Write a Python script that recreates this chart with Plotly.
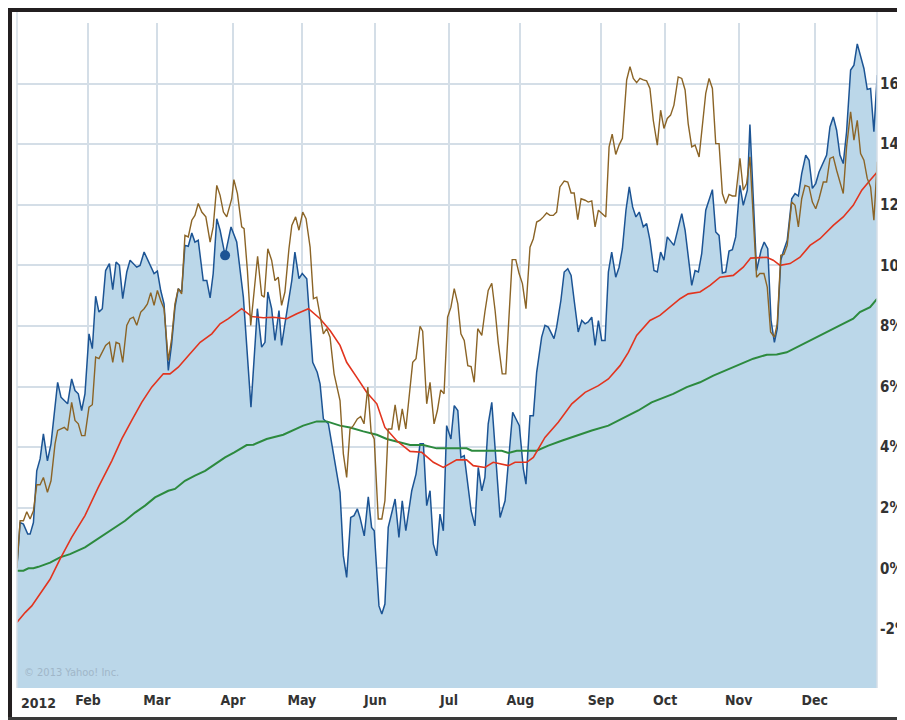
import pandas as pd
import plotly.graph_objects as go

# ---------------- data (day offsets from 2012-01-01, values in %) ----------------
blue_day = [1.0, 2.4, 3.8, 5.6, 6.6, 8.0, 9.4, 10.8, 12.2, 13.9, 15.4, 18.2, 19.6, 22.4, 24.1, 25.5, 26.9, 28.3, 29.7,
            31.4, 32.8, 34.2, 35.6, 37.0, 38.4, 40.0, 41.4, 42.8, 44.2, 45.6, 47.3, 48.7, 51.5, 52.9, 54.6, 58.8, 60.2,
            61.6, 63.0, 64.8, 66.2, 67.6, 69.0, 70.4, 71.8, 73.2, 74.7, 76.0, 77.4, 79.5, 81.0, 82.4, 83.7, 85.2, 86.6,
            88.7, 91.2, 93.6, 96.4, 99.6, 102.3, 104.1, 105.5, 106.7, 108.3, 109.7, 111.4, 112.5, 113.9, 116.8, 118.1,
            119.8, 121.2, 123.1, 125.6, 127.5, 128.7, 130.1, 132.2, 134.3, 137.1, 138.5, 139.9, 141.6, 143.0, 144.4,
            145.5, 147.3, 149.0, 150.4, 151.5, 153.5, 154.7, 156.0, 157.4, 160.3, 161.9, 163.3, 164.8, 167.3, 169.1,
            170.8, 172.2, 173.6, 175.0, 176.4, 177.8, 179.2, 180.6, 182.0, 183.8, 185.2, 186.7, 188.0, 189.4, 192.3,
            193.9, 195.3, 196.8, 198.1, 199.5, 201.0, 202.4, 204.5, 206.6, 208.3, 209.8, 211.2, 212.6, 214.3, 215.4,
            217.1, 218.5, 219.9, 222.0, 223.4, 224.8, 227.2, 228.3, 230.1, 231.5, 233.0, 234.4, 235.7, 237.4, 238.9,
            240.3, 241.6, 243.1, 244.5, 245.9, 247.3, 248.7, 250.1, 251.5, 253.2, 254.6, 256.0, 257.5, 258.9, 260.3,
            261.7, 263.1, 264.8, 266.2, 267.6, 269.3, 270.7, 272.1, 273.5, 274.9, 277.7, 281.0, 282.4, 285.2, 286.6,
            288.0, 289.4, 291.1, 293.9, 295.3, 296.7, 298.1, 299.5, 300.9, 302.3, 303.7, 305.5, 306.9, 308.6, 309.7,
            312.5, 314.4, 315.7, 317.2, 318.6, 320.0, 321.2, 322.7, 323.7, 325.4, 327.3, 328.7, 330.1, 331.5, 333.2,
            334.6, 336.0, 337.4, 338.8, 340.6, 342.0, 343.4, 344.8, 346.2, 347.6, 349.0, 350.4, 352.1, 353.5, 354.9,
            356.3, 357.7, 359.1, 360.5, 361.9, 363.3]
blue_val = [0.0, 1.51, 1.46, 1.13, 1.13, 1.51, 3.22, 3.61, 4.44, 3.55, 4.11, 6.14, 5.65, 5.43, 6.25, 5.87, 5.76, 5.21,
            5.76, 7.74, 7.25, 8.98, 8.46, 8.57, 9.83, 10.06, 9.2, 10.11, 10.0, 8.9, 9.78, 10.17, 9.94, 10.0, 10.44, 9.73,
            9.81, 9.17, 8.73, 6.53, 7.41, 8.62, 9.23, 9.12, 10.66, 10.63, 11.07, 10.77, 10.83, 9.5, 9.5, 8.93, 9.73,
            11.54, 11.16, 10.33, 11.27, 10.77, 8.95, 5.32, 8.57, 7.3, 7.46, 9.12, 8.57, 7.52, 8.51, 7.36, 8.07, 9.5,
            10.44, 9.56, 9.73, 9.56, 6.8, 6.47, 6.09, 4.93, 4.77, 3.78, 2.51, 0.41, -0.3, 1.68, 1.74, 1.96, 1.68, 1.07,
            2.36, 1.35, 1.24, -1.24, -1.51, -1.18, 1.35, 2.29, 1.02, 2.23, 1.24, 2.56, 3.11, 4.11, 4.11, 2.07, 2.56,
            0.8, 0.41, 1.79, 1.24, 4.71, 4.27, 5.37, 5.21, 3.66, 3.72, 1.9, 1.4, 3.33, 2.56, 3.0, 4.77, 5.48, 3.88,
            1.68, 2.23, 3.78, 5.15, 4.93, 4.71, 3.28, 2.78, 5.04, 5.04, 6.47, 7.63, 8.02, 7.96, 7.58, 7.96, 8.84, 9.78,
            9.89, 9.67, 8.84, 7.8, 8.18, 8.07, 8.13, 8.29, 7.36, 8.18, 7.52, 7.52, 9.78, 10.44, 9.61, 9.94, 10.55,
            11.82, 12.59, 11.93, 11.6, 11.76, 11.27, 11.38, 10.83, 9.83, 9.78, 10.44, 10.17, 10.94, 10.66, 11.71,
            11.16, 9.34, 9.83, 9.78, 10.39, 11.82, 12.5, 11.1, 10.99, 9.75, 9.78, 10.47, 10.52, 10.94, 12.64, 11.98,
            12.48, 14.65, 9.83, 10.5, 10.77, 10.55, 8.18, 7.46, 7.91, 10.17, 10.44, 10.83, 12.2, 12.37, 12.29, 13.03,
            13.64, 13.47, 12.54, 12.7, 13.08, 13.42, 13.64, 14.57, 14.9, 14.46, 13.64, 13.36, 14.41, 16.45, 16.61,
            17.31, 16.94, 16.5, 15.81, 15.84, 14.41, 16.28]

brown_day = [1.0, 2.4, 3.8, 5.2, 6.6, 8.0, 9.4, 10.8, 12.2, 13.9, 15.4, 17.1, 18.2, 21.0, 22.4, 24.1, 25.5, 26.9, 28.3,
             29.7, 31.4, 32.8, 34.2, 35.6, 38.4, 40.0, 41.4, 42.8, 44.2, 45.6, 47.3, 48.7, 50.1, 51.5, 53.2, 54.6, 56.0,
             57.4, 58.8, 60.2, 61.6, 63.0, 64.8, 66.2, 67.6, 69.0, 70.4, 71.8, 73.2, 74.7, 76.0, 77.4, 78.9, 80.6, 82.4,
             83.7, 85.2, 86.6, 88.0, 89.4, 91.5, 92.4, 93.9, 95.7, 96.7, 98.1, 99.5, 100.9, 102.4, 104.1, 105.2, 106.7,
             108.3, 109.7, 111.1, 112.5, 113.9, 115.6, 116.8, 118.4, 119.8, 121.4, 122.8, 124.5, 125.9, 127.3, 130.1,
             131.5, 132.9, 134.6, 137.1, 138.5, 139.9, 141.3, 142.7, 144.4, 145.8, 147.2, 148.8, 150.2, 151.5, 153.2,
             154.7, 156.0, 157.4, 158.9, 160.3, 161.9, 163.3, 164.8, 167.7, 169.1, 170.8, 171.9, 173.6, 175.0, 176.7,
             178.1, 179.5, 180.9, 182.4, 183.8, 185.2, 186.7, 188.0, 189.4, 190.9, 192.3, 193.6, 195.1, 196.8, 198.1,
             199.5, 201.0, 202.4, 203.7, 205.4, 206.9, 208.3, 209.6, 211.1, 212.5, 213.9, 215.4, 217.1, 218.5, 219.9,
             221.3, 222.7, 224.1, 225.5, 226.9, 228.3, 229.7, 231.5, 233.0, 234.4, 235.7, 237.2, 238.6, 240.3, 241.6,
             243.1, 244.5, 245.9, 247.3, 249.0, 250.4, 251.7, 253.2, 254.6, 256.0, 257.8, 259.2, 260.6, 262.0, 263.4,
             264.8, 266.2, 267.6, 269.0, 270.7, 272.1, 273.5, 274.9, 276.3, 277.7, 279.5, 281.0, 282.4, 283.7, 285.2,
             286.6, 288.3, 289.6, 291.1, 292.5, 293.9, 295.3, 296.7, 298.1, 299.5, 300.9, 302.3, 303.7, 305.5, 306.9,
             308.3, 309.7, 312.5, 313.9, 315.6, 317.0, 318.4, 320.0, 321.2, 322.7, 324.0, 325.4, 327.3, 328.7, 330.1,
             331.5, 332.9, 334.6, 336.0, 337.4, 338.8, 340.6, 342.0, 343.4, 344.8, 346.2, 347.6, 349.0, 350.4, 352.1,
             353.5, 354.9, 356.3, 357.7, 359.1, 360.5, 361.9, 363.3]
brown_val = [0.0, 1.57, 1.57, 1.87, 1.63, 1.9, 2.76, 2.76, 3.0, 2.51, 2.89, 4.11, 4.55, 4.65, 4.55, 5.48, 4.88, 4.77,
             4.38, 4.38, 5.32, 5.4, 6.97, 6.92, 7.36, 7.46, 6.8, 7.46, 7.41, 6.8, 8.02, 8.24, 8.29, 8.02, 8.46, 8.57,
             8.73, 9.1, 8.68, 9.17, 8.84, 8.57, 6.86, 7.58, 8.73, 9.23, 9.06, 10.99, 10.94, 11.49, 11.65, 12.04, 11.76,
             11.6, 10.77, 11.27, 12.64, 12.31, 11.76, 11.6, 12.2, 12.83, 12.37, 11.27, 11.21, 9.83, 8.02, 9.17, 10.3,
             9.01, 8.95, 10.55, 10.17, 9.5, 9.61, 8.68, 9.12, 10.55, 11.32, 11.6, 11.16, 11.76, 11.54, 10.6, 8.9, 8.95,
             7.74, 7.91, 7.63, 6.42, 5.54, 3.78, 3.0, 4.6, 4.71, 4.93, 5.01, 4.77, 5.98, 4.49, 4.27, 1.63, 1.63, 2.23,
             4.6, 4.6, 5.4, 4.55, 5.26, 4.6, 6.8, 6.92, 7.99, 7.83, 5.43, 6.14, 4.77, 5.21, 5.89, 5.76, 8.29, 8.62,
             9.23, 8.73, 7.74, 7.52, 6.69, 6.66, 6.14, 7.91, 7.69, 8.46, 9.17, 9.41, 8.51, 7.46, 6.42, 6.42, 8.4, 10.19,
             10.19, 9.73, 9.4, 8.57, 10.6, 10.88, 11.43, 11.49, 11.6, 11.73, 11.65, 11.65, 11.76, 12.59, 12.78, 12.75,
             12.39, 12.39, 11.51, 12.2, 12.15, 12.09, 12.13, 11.27, 11.82, 11.71, 11.6, 13.91, 14.33, 13.66, 13.97,
             14.19, 16.12, 16.56, 16.17, 16.03, 16.17, 16.12, 16.09, 15.84, 14.79, 13.97, 15.12, 14.52, 14.85, 14.96,
             15.29, 16.22, 16.17, 15.79, 14.68, 13.91, 13.97, 13.58, 14.57, 15.68, 16.17, 15.84, 14.02, 14.02, 12.37,
             12.04, 12.34, 12.29, 12.29, 13.53, 12.48, 12.7, 13.58, 9.61, 9.73, 9.73, 9.28, 7.8, 7.63, 8.07, 10.33,
             10.36, 10.66, 12.09, 11.98, 11.27, 12.2, 12.64, 12.59, 12.09, 11.87, 12.2, 12.75, 12.75, 13.53, 13.58,
             13.14, 12.75, 12.37, 13.91, 15.07, 14.13, 14.79, 13.69, 13.47, 12.87, 12.59, 11.49, 13.42]

red_day = [1.0, 4.5, 7.3, 10.8, 15.0, 19.2, 24.1, 29.7, 35.3, 41.0, 45.2, 49.4, 53.6, 57.8, 62.7, 65.5, 69.0, 73.2,
           78.2, 83.1, 86.6, 90.1, 95.7, 99.9, 104.8, 109.0, 114.7, 118.9, 123.8, 128.7, 132.9, 137.1, 139.9, 144.1,
           148.3, 152.6, 156.0, 161.0, 166.6, 171.5, 176.4, 180.6, 186.2, 190.4, 193.2, 198.1, 201.6, 208.0, 210.8,
           215.7, 218.5, 223.4, 229.0, 234.7, 240.3, 245.9, 250.1, 255.0, 258.5, 262.0, 267.6, 271.8, 276.0, 280.3,
           283.7, 288.7, 292.9, 297.1, 302.7, 306.9, 310.0, 316.8, 319.5, 322.4, 326.6, 330.8, 335.0, 339.2, 344.8,
           349.0, 353.2, 356.8, 360.3, 363.3]
red_val = [-1.79, -1.46, -1.24, -0.85, -0.36, 0.3, 1.02, 1.74, 2.67, 3.55, 4.27, 4.88, 5.48, 5.98, 6.42, 6.42, 6.64,
           7.02, 7.46, 7.74, 8.07, 8.24, 8.57, 8.31, 8.27, 8.29, 8.24, 8.4, 8.57, 8.24, 7.85, 7.36, 6.8, 6.31, 5.81,
           5.43, 4.65, 4.21, 3.86, 3.83, 3.5, 3.33, 3.58, 3.58, 3.39, 3.33, 3.5, 3.39, 3.5, 3.5, 3.66, 4.32, 4.82,
           5.43, 5.81, 6.03, 6.25, 6.69, 7.13, 7.69, 8.18, 8.35, 8.62, 8.9, 9.06, 9.12, 9.34, 9.61, 9.67, 9.94, 10.24,
           10.27, 10.17, 10.0, 10.06, 10.27, 10.66, 10.88, 11.32, 11.6, 11.98, 12.48, 12.81, 13.08]

green_day = [1.0, 3.8, 5.9, 8.0, 10.1, 12.9, 15.0, 19.2, 23.4, 29.7, 33.9, 38.2, 42.4, 46.6, 50.8, 55.0, 59.2, 64.8,
             67.6, 71.8, 76.0, 80.3, 84.5, 88.7, 92.6, 97.8, 100.6, 106.2, 113.2, 117.4, 121.6, 127.3, 131.5, 137.1,
             141.3, 146.9, 152.6, 156.8, 161.0, 166.6, 172.2, 177.8, 183.4, 190.4, 192.6, 205.2, 208.0, 211.5, 219.9,
             224.8, 230.4, 237.4, 243.1, 250.1, 257.1, 262.7, 268.3, 273.9, 277.4, 283.1, 288.7, 294.3, 299.9, 305.5,
             311.1, 316.8, 321.0, 325.2, 330.8, 336.4, 342.0, 347.6, 353.2, 356.0, 360.3, 363.3]
green_val = [-0.08, -0.08, 0.0, 0.0, 0.05, 0.12, 0.19, 0.36, 0.47, 0.69, 0.91, 1.13, 1.35, 1.57, 1.84, 2.07, 2.34,
             2.56, 2.62, 2.89, 3.06, 3.22, 3.44, 3.66, 3.83, 4.07, 4.08, 4.27, 4.41, 4.55, 4.71, 4.85, 4.85, 4.71,
             4.65, 4.52, 4.41, 4.27, 4.18, 4.07, 4.07, 3.96, 3.96, 3.96, 3.88, 3.88, 3.81, 3.88, 3.88, 4.05, 4.21,
             4.41, 4.55, 4.71, 4.99, 5.21, 5.48, 5.65, 5.76, 5.98, 6.14, 6.36, 6.55, 6.75, 6.92, 7.05, 7.06, 7.13,
             7.36, 7.58, 7.8, 8.02, 8.24, 8.46, 8.62, 8.9]

marker_index = 55  # highlighted point on the blue series

month_ticks = ["2012-02-01", "2012-03-01", "2012-04-02", "2012-05-01", "2012-06-01", "2012-07-02",
               "2012-08-01", "2012-09-04", "2012-10-01", "2012-11-01", "2012-12-03"]
month_labels = ["Feb", "Mar", "Apr", "May", "Jun", "Jul", "Aug", "Sep", "Oct", "Nov", "Dec"]
year_label = "2012"
year_tick = "2012-01-03"

y_ticks = [-2, 0, 2, 4, 6, 8, 10, 12, 14, 16, 18]
y_labels = ["-2%", "0%", "2%", "4%", "6%", "8%", "10%", "12%", "14%", "16%", ""]
Y_RANGE = [-3.95, 18.0]
X_RANGE = ["2012-01-02 02:00", "2012-12-29 05:00"]

# ---------------- helpers ----------------
BASE = pd.Timestamp("2012-01-01")


def to_dates(days):
    return [BASE + pd.Timedelta(days=d) for d in days]


blue_x = to_dates(blue_day)
brown_x = to_dates(brown_day)
red_x = to_dates(red_day)
green_x = to_dates(green_day)

FILL = "rgb(187,215,233)"
BLUE = "rgb(28,84,148)"
BROWN = "rgb(139,100,38)"
RED = "rgb(226,52,30)"
GREEN = "rgb(44,138,62)"
GRID = "rgb(212,222,231)"
FONT = "Liberation Sans Narrow, DejaVu Sans Condensed, Arial Narrow, sans-serif"

fig = go.Figure()
# baseline for the area fill (bottom of the value axis)
fig.add_trace(go.Scatter(x=blue_x, y=[Y_RANGE[0]] * len(blue_x), mode="lines",
                         line=dict(width=0, color=FILL), hoverinfo="skip", showlegend=False))
fig.add_trace(go.Scatter(x=blue_x, y=blue_val, mode="lines", fill="tonexty", fillcolor=FILL,
                         line=dict(color=BLUE, width=1.5), showlegend=False))
fig.add_trace(go.Scatter(x=green_x, y=green_val, mode="lines", line=dict(color=GREEN, width=2), showlegend=False))
fig.add_trace(go.Scatter(x=red_x, y=red_val, mode="lines", line=dict(color=RED, width=1.6), showlegend=False))
fig.add_trace(go.Scatter(x=brown_x, y=brown_val, mode="lines", line=dict(color=BROWN, width=1.4), showlegend=False))
fig.add_trace(go.Scatter(x=[blue_x[marker_index]], y=[blue_val[marker_index]], mode="markers",
                         marker=dict(color=BLUE, size=10), showlegend=False))

fig.update_layout(
    width=897, height=712,
    margin=dict(l=9, r=28, t=15, b=32, autoexpand=False),
    paper_bgcolor="white", plot_bgcolor="white",
    showlegend=False,
    xaxis=dict(type="date", range=X_RANGE, tickvals=month_ticks, ticktext=month_labels, automargin=False,
               showgrid=True, gridcolor=GRID, gridwidth=1.5, zeroline=False, showline=False, ticks="",
               ticklabelstandoff=2,
               tickfont=dict(family=FONT, size=14, color="#333333", weight="bold")),
    yaxis=dict(range=Y_RANGE, side="right", tickvals=y_ticks, ticktext=y_labels, automargin=False,
               showgrid=True, gridcolor=GRID, gridwidth=1.5, zeroline=False, showline=False, ticks="",
               ticklabelstandoff=2,
               tickfont=dict(family=FONT, size=15, color="#333333", weight="bold")),
    annotations=[
        dict(x=year_tick, xref="x", y=0, yref="paper", yanchor="top", xanchor="left", yshift=-5,
             text=year_label, showarrow=False,
             font=dict(family=FONT, size=14, color="#333333", weight="bold")),
        dict(x=0.006, xref="paper", y=0.023, yref="paper", xanchor="left", yanchor="middle",
             text="© 2013 Yahoo! Inc.", showarrow=False,
             font=dict(family=FONT, size=11, color="rgb(160,182,200)")),
    ],
    shapes=[
        # frame: top bar, left bar, bottom line
        dict(type="rect", xref="paper", yref="paper", x0=-0.0128, x1=1.04, y0=1.0165, y1=1.03,
             fillcolor="#231f20", line=dict(width=0)),
        dict(type="rect", xref="paper", yref="paper", x0=-0.0128, x1=-0.0058, y0=-0.05, y1=1.03,
             fillcolor="#231f20", line=dict(width=0)),
        dict(type="rect", xref="paper", yref="paper", x0=-0.0128, x1=1.04, y0=-0.05, y1=-0.0436,
             fillcolor="#3a3a3a", line=dict(width=0)),
        # plot side borders
        dict(type="line", xref="paper", yref="paper", x0=0, x1=0, y0=0, y1=1.0165,
             line=dict(color=GRID, width=1.5)),
        dict(type="line", xref="paper", yref="paper", x0=1, x1=1, y0=0, y1=1.0165,
             line=dict(color=GRID, width=1.5)),
    ],
)

fig.write_html("out.html")
